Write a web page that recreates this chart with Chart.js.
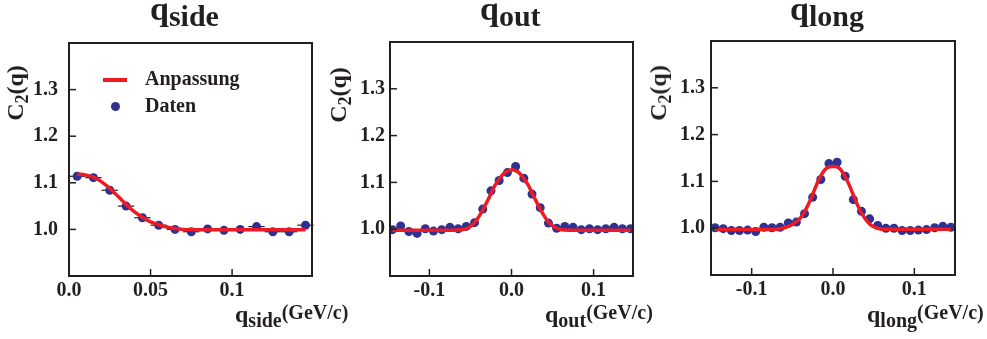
<!DOCTYPE html>
<html>
<head>
<meta charset="utf-8">
<script src="https://cdn.jsdelivr.net/npm/chart.js@4"></script>
<style>
    body { margin: 0; background: #fff; }
    #page { position: relative; width: 987px; height: 339px; overflow: hidden;
            font-family: 'Liberation Serif', 'Times New Roman', serif; font-weight: bold; color: #231f20; }
    .panel { position: absolute; top: 0; height: 339px; }
    .txt { position: absolute; white-space: nowrap; line-height: 1; }
    .title { font-size: 34px; }
    .title .sub { font-size: 30px; position: relative; top: 6px; }
    .xtitle { font-size: 24px; }
    .xtitle .sub { font-size: 20px; position: relative; top: 5px; }
    .xtitle .unit { font-size: 20px; position: relative; top: -3px; }
    .ytitle { font-size: 24px; transform: translate(-50%, -50%) rotate(-90deg); }
    .ytitle .sub { font-size: 18px; position: relative; top: 5px; }
    .legend { font-size: 20px; }
</style>
</head>
<body>
<div id="page">
    <div class="panel" style="left:0;width:330px"><canvas id="c_side" width="330" height="339"></canvas></div>
    <div class="panel" style="left:330px;width:330px"><canvas id="c_out" width="330" height="339"></canvas></div>
    <div class="panel" style="left:660px;width:327px"><canvas id="c_long" width="327" height="339"></canvas></div>

    <div class="txt title" style="left:150px;top:-8px">q<span class="sub">side</span></div>
    <div class="txt title" style="left:480px;top:-8px">q<span class="sub">out</span></div>
    <div class="txt title" style="left:790px;top:-8px">q<span class="sub">long</span></div>

    <div class="txt ytitle" style="left:15px;top:93px">C<span class="sub">2</span>(q)</div>
    <div class="txt ytitle" style="left:338px;top:95px">C<span class="sub">2</span>(q)</div>
    <div class="txt ytitle" style="left:658px;top:93px">C<span class="sub">2</span>(q)</div>

    <div class="txt xtitle" style="left:235px;top:302px">q<span class="sub">side</span><span class="unit">(GeV/c)</span></div>
    <div class="txt xtitle" style="left:545px;top:302px">q<span class="sub">out</span><span class="unit">(GeV/c)</span></div>
    <div class="txt xtitle" style="left:867px;top:302px">q<span class="sub">long</span><span class="unit">(GeV/c)</span></div>

    <div style="position:absolute;left:103px;top:78px;width:24px;height:4px;background:#ed1c24"></div>
    <div style="position:absolute;left:111px;top:102px;width:9px;height:9px;border-radius:50%;background:#2e3192"></div>
    <div class="txt legend" style="left:145px;top:68px">Anpassung</div>
    <div class="txt legend" style="left:145px;top:95px">Daten</div>
</div>
<script>
// q_side
const side_q = [0.005, 0.015, 0.025, 0.035, 0.045, 0.055, 0.065, 0.075, 0.085, 0.095, 0.105, 0.115, 0.125, 0.135, 0.145]
const side_c2 = [1.114, 1.111, 1.084, 1.050, 1.025, 1.009, 1.000, 0.995, 1.001, 0.998, 1.000, 1.006, 0.995, 0.995, 1.009]
const side_q_err = [0.005, 0.005, 0.005, 0.005, 0.005, 0.005, 0.005, 0.005, 0.005, 0.005, 0.005, 0.005, 0.005, 0.005, 0.005]
const side_fit_q = [0.005, 0.010, 0.015, 0.020, 0.025, 0.030, 0.035, 0.040, 0.045, 0.050, 0.055, 0.060, 0.065, 0.070, 0.080, 0.100, 0.120, 0.145]
const side_fit_c2 = [1.119, 1.117, 1.112, 1.102, 1.088, 1.071, 1.054, 1.038, 1.026, 1.016, 1.010, 1.005, 1.002, 1.000, 0.999, 0.999, 0.999, 0.999]
const side_ticks = [0, 0.05, 0.1]
const side_tick_labels = ['0.0', '0.05', '0.1']

// q_out and q_long share the same bins
const sym_q = [-0.145, -0.135, -0.125, -0.115, -0.105, -0.095, -0.085, -0.075, -0.065, -0.055,
               -0.045, -0.035, -0.025, -0.015, -0.005, 0.005, 0.015, 0.025, 0.035, 0.045,
               0.055, 0.065, 0.075, 0.085, 0.095, 0.105, 0.115, 0.125, 0.135, 0.145]
const out_c2 = [0.999, 1.007, 0.995, 0.991, 1.001, 0.996, 0.999, 1.004, 1.001, 1.006,
                1.014, 1.043, 1.082, 1.104, 1.121, 1.134, 1.109, 1.075, 1.046, 1.013,
                1.002, 1.006, 1.004, 0.999, 1.001, 0.999, 1.001, 1.004, 1.001, 1.001]
const out_fit_q = [-0.145, -0.100, -0.070, -0.060, -0.055, -0.050, -0.045, -0.040, -0.035, -0.030, -0.025, -0.020, -0.015, -0.010, -0.005,
                   0, 0.005, 0.010, 0.015, 0.020, 0.025, 0.030, 0.035, 0.040, 0.045, 0.050, 0.055, 0.060, 0.070, 0.100, 0.145]
const out_fit_c2 = [0.998, 0.998, 0.998, 0.999, 1.001, 1.006, 1.014, 1.026, 1.041, 1.058, 1.076, 1.094, 1.107, 1.118, 1.124,
                    1.127, 1.125, 1.119, 1.108, 1.095, 1.078, 1.060, 1.043, 1.028, 1.015, 1.007, 1.002, 0.999, 0.998, 0.998, 0.998]

const long_c2 = [1.001, 0.999, 0.995, 0.995, 0.996, 0.993, 1.002, 1.001, 1.002, 1.011,
                 1.013, 1.031, 1.066, 1.104, 1.138, 1.141, 1.111, 1.061, 1.036, 1.020,
                 1.006, 1.000, 1.000, 0.995, 0.995, 0.996, 0.997, 1.001, 1.004, 1.002]
const long_fit_q = [-0.145, -0.100, -0.070, -0.060, -0.055, -0.050, -0.045, -0.040, -0.035, -0.030, -0.025, -0.020, -0.015, -0.010, -0.005,
                    0, 0.005, 0.010, 0.015, 0.020, 0.025, 0.030, 0.035, 0.040, 0.045, 0.050, 0.055, 0.060, 0.070, 0.100, 0.145]
const long_fit_c2 = [0.997, 0.997, 0.998, 1.001, 1.004, 1.008, 1.014, 1.022, 1.035, 1.052, 1.072, 1.094, 1.112, 1.125, 1.131,
                     1.132, 1.131, 1.124, 1.110, 1.092, 1.071, 1.050, 1.033, 1.019, 1.009, 1.003, 1.000, 0.998, 0.998, 0.998, 0.998]

const sym_ticks = [-0.1, 0, 0.1]
const sym_tick_labels = ['-0.1', '0.0', '0.1']
const y_ticks = [1.0, 1.1, 1.2, 1.3]
const y_tick_labels = ['1.0', '1.1', '1.2', '1.3']

const RED = '#ed1c24'
const BLUE = '#2e3192'
const INK = '#231f20'

Chart.defaults.font.family = "'Liberation Serif', 'Times New Roman', serif"
Chart.defaults.font.weight = 'bold'
Chart.defaults.font.size = 20
Chart.defaults.color = INK

function zip(xs, ys) {
    return xs.map((x, i) => ({'x': x, 'y': ys[i]}))
}

// frame, inward ticks and horizontal error bars
const frame_plugin = {
    'id': 'frame',
    beforeDatasetsDraw(chart, args, opts) {
        if (!opts.x_err) return
        const ctx = chart.ctx
        const x = chart.scales.x, y = chart.scales.y
        ctx.save()
        ctx.strokeStyle = INK
        ctx.lineWidth = 1.2
        opts.q.forEach((q, i) => {
            const py = y.getPixelForValue(opts.c2[i])
            ctx.beginPath()
            ctx.moveTo(x.getPixelForValue(q - opts.x_err[i]), py)
            ctx.lineTo(x.getPixelForValue(q + opts.x_err[i]), py)
            ctx.stroke()
        })
        ctx.restore()
    },
    afterDatasetsDraw(chart) {
        const ctx = chart.ctx
        const a = chart.chartArea
        const x = chart.scales.x, y = chart.scales.y
        ctx.save()
        ctx.strokeStyle = INK
        ctx.lineWidth = 2
        ctx.strokeRect(a.left, a.top, a.right - a.left, a.bottom - a.top)
        ctx.lineWidth = 1.5
        x.ticks.forEach(t => {
            const px = x.getPixelForValue(t.value)
            if (px < a.left + 2 || px > a.right - 2) return
            ctx.beginPath(); ctx.moveTo(px, a.bottom); ctx.lineTo(px, a.bottom - 7); ctx.stroke()
        })
        y.ticks.forEach(t => {
            const py = y.getPixelForValue(t.value)
            ctx.beginPath(); ctx.moveTo(a.left, py); ctx.lineTo(a.left + 7, py); ctx.stroke()
        })
        ctx.restore()
    }
}

function draw_panel(canvas_id, p) {
    return new Chart(document.getElementById(canvas_id).getContext('2d'), {
        'type': 'scatter',
        'data': {
            'datasets': [{
                'type': 'line',
                'data': zip(p.fit_q, p.fit_c2),
                'borderColor': RED,
                'borderWidth': 3.5,
                'pointRadius': 0,
                'cubicInterpolationMode': 'monotone',
                'order': 0
            }, {
                'data': zip(p.q, p.c2),
                'backgroundColor': BLUE,
                'borderWidth': 0,
                'pointRadius': 4.5,
                'order': 1
            }]
        },
        'options': {
            'responsive': false,
            'animation': false,
            'layout': {'padding': {'left': 0, 'right': p.right_pad, 'top': p.top, 'bottom': 0}},
            'plugins': {
                'legend': {'display': false},
                'tooltip': {'enabled': false},
                'frame': p.err ? {'x_err': p.err, 'q': p.q, 'c2': p.c2} : {}
            },
            'scales': {
                'x': {
                    'type': 'linear',
                    'min': p.x_min,
                    'max': p.x_max,
                    'grid': {'display': false, 'drawTicks': false},
                    'border': {'display': false},
                    'afterBuildTicks': axis => { axis.ticks = p.ticks.map(v => ({'value': v})) },
                    'afterFit': axis => { axis.height = 339 - p.bottom },
                    'ticks': {
                        'autoSkip': false,
                        'maxRotation': 0,
                        'padding': 3,
                        'callback': (v, i) => p.tick_labels[i]
                    }
                },
                'y': {
                    'min': 0.9,
                    'max': 1.4,
                    'grid': {'display': false, 'drawTicks': false},
                    'border': {'display': false},
                    'afterBuildTicks': axis => { axis.ticks = y_ticks.map(v => ({'value': v})) },
                    'afterFit': axis => { axis.width = p.left },
                    'ticks': {
                        'padding': p.y_pad,
                        'callback': (v, i) => y_tick_labels[i]
                    }
                }
            }
        },
        'plugins': [frame_plugin]
    })
}

draw_panel('c_side', {
    'q': side_q, 'c2': side_c2, 'err': side_q_err, 'fit_q': side_fit_q, 'fit_c2': side_fit_c2,
    'ticks': side_ticks, 'tick_labels': side_tick_labels, 'x_min': 0, 'x_max': 0.149,
    'left': 69, 'right_pad': 18, 'top': 43, 'bottom': 276, 'y_pad': 11
})
draw_panel('c_out', {
    'q': sym_q, 'c2': out_c2, 'fit_q': out_fit_q, 'fit_c2': out_fit_c2,
    'ticks': sym_ticks, 'tick_labels': sym_tick_labels, 'x_min': -0.148, 'x_max': 0.148,
    'left': 60, 'right_pad': 27, 'top': 42, 'bottom': 276, 'y_pad': 5
})
draw_panel('c_long', {
    'q': sym_q, 'c2': long_c2, 'fit_q': long_fit_q, 'fit_c2': long_fit_c2,
    'ticks': sym_ticks, 'tick_labels': sym_tick_labels, 'x_min': -0.15, 'x_max': 0.15,
    'left': 51, 'right_pad': 32, 'top': 41, 'bottom': 275, 'y_pad': 6
})
</script>
</body>
</html>
